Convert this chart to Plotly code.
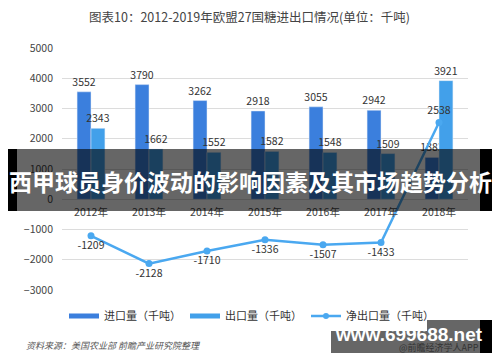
import plotly.graph_objects as go

years = ["2012年", "2013年", "2014年", "2015年", "2016年", "2017年", "2018年"]
imports = [3552, 3790, 3262, 2918, 3055, 2942, 1383]
exports = [2343, 1662, 1552, 1582, 1548, 1509, 3921]
net_exports = [-1209, -2128, -1710, -1336, -1507, -1433, 2538]
y_ticks = [5000, 4000, 3000, 2000, 1000, 0, -1000, -2000, -3000]

W, H = 500, 362
L, R, T, B = 62, 32, 48, 72
PW, PH = W - L - R, H - T - B

def px(x):
    return (x - L) / PW

def py(y):
    return (H - B - y) / PH

CJK = "Noto Sans CJK SC"
c_imp = "#3b7fdd"
c_exp = "#42a0ea"
c_net = "#4aa8f0"

fig = go.Figure()
fig.add_trace(go.Bar(x=years, y=imports, name="进口量（千吨）", marker_color=c_imp,
                     text=imports, textposition="outside", cliponaxis=False, constraintext="none",
                     textfont=dict(size=10.5, color="#333"), showlegend=False))
fig.add_trace(go.Bar(x=years, y=exports, name="出口量（千吨）", marker_color=c_exp,
                     text=exports, textposition="outside", cliponaxis=False, constraintext="none",
                     textfont=dict(size=10.5, color="#333"), showlegend=False))
pos = ["bottom center"] * (len(years) - 1) + ["top center"]
fig.add_trace(go.Scatter(x=years, y=net_exports, name="净出口量（千吨）", mode="lines+markers+text",
                         line=dict(color=c_net, width=2.5), marker=dict(size=7, color=c_net),
                         text=net_exports, textposition=pos, cliponaxis=False,
                         textfont=dict(size=10.5, color="#333"), showlegend=False))
# legend entries
fig.add_trace(go.Scatter(x=[None], y=[None], mode="lines", name="进口量（千吨）",
                         line=dict(color=c_imp, width=5)))
fig.add_trace(go.Scatter(x=[None], y=[None], mode="lines", name="出口量（千吨）",
                         line=dict(color=c_exp, width=5)))
fig.add_trace(go.Scatter(x=[None], y=[None], mode="lines+markers", name="净出口量（千吨）",
                         line=dict(color=c_net, width=2.5), marker=dict(size=6, color=c_net)))

shapes = [
    dict(type="rect", xref="paper", yref="paper", x0=px(8), x1=px(17), y0=py(211), y1=py(149),
         fillcolor="black", line_width=0, layer="above"),
    dict(type="rect", xref="paper", yref="paper", x0=px(17), x1=px(480), y0=py(211), y1=py(149),
         fillcolor="rgba(0,0,0,0.6)", line_width=0, layer="above"),
    dict(type="rect", xref="paper", yref="paper", x0=px(480), x1=px(492), y0=py(211), y1=py(149),
         fillcolor="black", line_width=0, layer="above"),
    dict(type="rect", xref="paper", yref="paper", x0=px(331), x1=px(480), y0=py(353), y1=py(320),
         fillcolor="#666666", line_width=0, layer="above"),
    dict(type="rect", xref="paper", yref="paper", x0=px(480), x1=px(492), y0=py(353), y1=py(320),
         fillcolor="black", line_width=0, layer="above"),
]

annotations = [
    dict(text="图表10：2012-2019年欧盟27国糖进出口情况(单位：千吨)", xref="paper", yref="paper",
         x=px(249), y=py(16), showarrow=False, font=dict(family=CJK, size=12.5, color="#444"),
         xanchor="center", yanchor="middle"),
    dict(text="西甲球员身价波动的影响因素及其市场趋势分析", xref="paper", yref="paper",
         x=px(250), y=py(181), showarrow=False,
         font=dict(family=CJK, size=23, color="white", weight="bold"),
         xanchor="center", yanchor="middle"),
    dict(text="<i>资料来源：美国农业部 前瞻产业研究院整理</i>", xref="paper", yref="paper",
         x=px(24), y=py(345), showarrow=False, font=dict(family=CJK, size=9, color="#555"),
         xanchor="left", yanchor="middle"),
    dict(text="www.699688.net", xref="paper", yref="paper",
         x=px(409), y=py(334), showarrow=False,
         font=dict(family="Liberation Sans", size=19, color="white", weight="bold"),
         xanchor="center", yanchor="middle"),
    dict(text="@前瞻经济学人APP", xref="paper", yref="paper",
         x=px(481), y=py(347), showarrow=False,
         font=dict(family=CJK, size=9, color="#333"),
         xanchor="right", yanchor="middle"),
]

fig.update_layout(
    width=W, height=H,
    margin=dict(l=L, r=R, t=T, b=B),
    paper_bgcolor="white", plot_bgcolor="white",
    barmode="group", bargap=0.52, bargroupgap=0,
    font=dict(family=CJK, size=10, color="#444"),
    xaxis=dict(anchor="free", position=3 / 8, showline=False, ticks="",
               showgrid=False, tickfont=dict(size=10.5, color="#444"),
               ticklabelstandoff=5),
    yaxis=dict(range=[-3000, 5000], tickvals=y_ticks, showgrid=True, gridcolor="#dcdcdc",
               gridwidth=1, zeroline=False, tickfont=dict(size=10.5, color="#444"),
               ticklabelstandoff=8),
    legend=dict(orientation="h", x=px(64), y=py(316), xanchor="left", yanchor="middle",
                font=dict(family=CJK, size=11, color="#333"), entrywidth=76, itemwidth=30),
    shapes=shapes,
    annotations=annotations,
)

fig.write_html("out.html", post_script="document.body.style.margin='0';",
               config={"displayModeBar": False})
